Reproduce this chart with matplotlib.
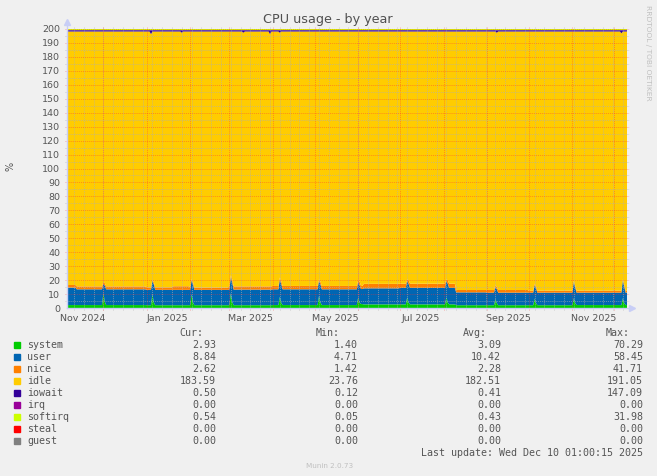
import numpy as np
import pandas as pd
import matplotlib
matplotlib.use('Agg')
import matplotlib.pyplot as plt
from matplotlib.patches import Rectangle

W, H = 657, 476

inicio = pd.Timestamp('2024-11-05 01:00')
fim = pd.Timestamp('2025-12-10 01:00')
dias = pd.date_range(inicio, fim, freq='D')

# niveis de base (trechos)
seg_datas = ['2024-11-05', '2024-11-12', '2025-01-01', '2025-01-20', '2025-02-01', '2025-03-01',
             '2025-04-01', '2025-06-01', '2025-06-05', '2025-07-01', '2025-08-10', '2025-09-01',
             '2025-10-01', '2025-11-01']
seg_system = [2.1, 2.1, 2.0, 2.0, 2.0, 2.0, 2.1, 2.8, 2.6, 2.6, 2.0, 2.0, 2.0, 2.1]
seg_user = [12.5, 11.3, 11.0, 11.0, 11.0, 11.2, 11.3, 10.8, 11.5, 11.8, 9.2, 9.0, 9.0, 8.9]
seg_nice = [1.9, 2.1, 1.8, 2.6, 1.6, 2.3, 2.4, 2.2, 3.2, 3.0, 1.7, 1.9, 1.4, 1.4]

# picos mensais (primeiro domingo) e o dia seguinte
pico_datas = ['2024-12-01', '2025-01-05', '2025-02-02', '2025-03-02', '2025-04-06', '2025-05-04',
              '2025-06-01', '2025-07-06', '2025-08-03', '2025-09-07', '2025-10-05', '2025-11-02',
              '2025-12-07']
pico_system = [10.7, 10.0, 10.0, 10.6, 8.0, 8.6, 7.6, 7.6, 7.6, 6.5, 6.8, 7.0, 7.0]
pico_user = [6.8, 9.6, 10.0, 11.4, 12.5, 10.9, 10.9, 11.9, 11.9, 8.5, 9.7, 12.0, 13.0]
pico_nice = [1.0, 0.6, 0.6, 1.4, 1.3, 1.0, 1.2, 1.0, 1.0, 1.5, 1.0, 0.5, 0.5]
apos_system = [4.5, 4.0, 4.0, 4.5, 3.8, 4.0, 3.8, 3.8, 3.8, 3.5, 3.6, 3.6, 3.6]
apos_user = [11.5, 13.0, 13.0, 14.0, 13.5, 13.0, 12.5, 13.5, 13.5, 10.0, 10.5, 11.0, 12.0]
apos_nice = [1.8, 1.6, 1.6, 2.0, 2.2, 2.0, 2.6, 2.6, 2.6, 1.6, 1.4, 1.4, 1.4]

iowait_datas = ['2025-01-04', '2025-01-26', '2025-03-11', '2025-03-30', '2025-04-06', '2025-09-08', '2025-12-06']
iowait_picos = [2.8, 1.8, 1.8, 2.8, 1.8, 1.8, 2.2]
iowait_base = 0.9
softirq_base = 0.7
total = 199.8

nomes = ['system', 'user', 'nice', 'idle', 'iowait', 'irq', 'softirq', 'steal', 'guest']
cores = ['#00CC00', '#0066B3', '#FF8000', '#FFCC00', '#330099', '#990099', '#CCFF00', '#FF0000', '#808080']
cur = [2.93, 8.84, 2.62, 183.59, 0.50, 0.00, 0.54, 0.00, 0.00]
vmin = [1.40, 4.71, 1.42, 23.76, 0.12, 0.00, 0.05, 0.00, 0.00]
avg = [3.09, 10.42, 2.28, 182.51, 0.41, 0.00, 0.43, 0.00, 0.00]
vmax = [70.29, 58.45, 41.71, 191.05, 147.09, 0.00, 31.98, 0.00, 0.00]

xlabels = ['Nov 2024', 'Jan 2025', 'Mar 2025', 'May 2025', 'Jul 2025', 'Sep 2025', 'Nov 2025']
xlabel_datas = ['2024-11-16', '2025-01-16', '2025-03-16', '2025-05-16', '2025-07-16', '2025-09-16', '2025-11-16']


def serie_trechos(valores):
    s = pd.Series(np.nan, index=dias)
    for d, v in zip(seg_datas, valores):
        s[s.index >= pd.Timestamp(d)] = v
    return s


def posicao(d):
    return dias.get_indexer([pd.Timestamp(d) + pd.Timedelta(hours=1)], method='nearest')[0]


system = serie_trechos(seg_system)
user = serie_trechos(seg_user)
nice = serie_trechos(seg_nice)
for k, d in enumerate(pico_datas):
    i = posicao(d)
    system.iloc[i] = pico_system[k]
    user.iloc[i] = pico_user[k]
    nice.iloc[i] = pico_nice[k]
    if i + 1 < len(dias):
        system.iloc[i + 1] = apos_system[k]
        user.iloc[i + 1] = apos_user[k]
        nice.iloc[i + 1] = apos_nice[k]
iowait = pd.Series(iowait_base, index=dias)
for d, v in zip(iowait_datas, iowait_picos):
    iowait.iloc[posicao(d)] = v
softirq = pd.Series(softirq_base, index=dias)
zeros = pd.Series(0.0, index=dias)
idle = total - system - user - nice - iowait - softirq

fig = plt.figure(figsize=(W / 100, H / 100), dpi=100, facecolor='#F0F0F0')
ax = fig.add_axes([67 / W, 1 - 308 / H, 560 / W, 279 / H])
ax.set_facecolor('white')
ax.stackplot(dias, system, user, nice, idle, iowait, zeros, softirq, zeros, zeros,
             colors=cores, linewidth=0)
ax.set_xlim(inicio, fim)
ax.set_ylim(0, 200)

dx = pd.Timedelta(days=1 / 1.4)
dy = 200 / 279
# grade
for d in pd.date_range(inicio, fim, freq='W-SUN'):
    ax.plot([d, d], [-2 * dy, 200 + 2 * dy], color='#B0B0B0', alpha=0.6, lw=0.7,
            ls=(0, (1, 1)), clip_on=False, zorder=3)
for d in pd.date_range(inicio, fim, freq='MS'):
    ax.plot([d, d], [-2 * dy, 200 + 2 * dy], color='#FF3030', alpha=0.4, lw=0.7,
            ls=(0, (1, 1)), clip_on=False, zorder=3)
for y in range(5, 200, 10):
    ax.plot([inicio - 2 * dx, fim + 2 * dx], [y, y], color='#B0B0B0', alpha=0.6, lw=0.7,
            ls=(0, (1, 1)), clip_on=False, zorder=3)
for y in range(10, 201, 10):
    ax.plot([inicio - 2 * dx, fim + 2 * dx], [y, y], color='#FF3030', alpha=0.4, lw=0.7,
            ls=(0, (1, 1)), clip_on=False, zorder=3)

# eixos com setas
cor_eixo = '#C8CEF6'
ax.plot([inicio, inicio], [0, 200 + 7 * dy], color=cor_eixo, lw=1, clip_on=False, zorder=4)
ax.plot([inicio, fim + 4 * dx], [0, 0], color=cor_eixo, lw=1, clip_on=False, zorder=4)
ax.plot([inicio], [200 + 7 * dy], marker='^', ms=5, color=cor_eixo, clip_on=False, zorder=4)
ax.plot([fim + 5 * dx], [0], marker='>', ms=5, color=cor_eixo, clip_on=False, zorder=4)

for s in ax.spines.values():
    s.set_visible(False)
ax.set_yticks(range(0, 201, 10))
ax.set_xticks([pd.Timestamp(d) for d in xlabel_datas])
ax.set_xticklabels(xlabels)
ax.tick_params(axis='both', length=0, labelsize=6.8, labelcolor='#555555')
ax.tick_params(axis='y', pad=5)
ax.tick_params(axis='x', pad=4)

fig.text(328 / W, 1 - 19 / H, 'CPU usage - by year', ha='center', va='center',
         fontsize=9.2, color='#505050')
fig.text(10 / W, 1 - 166 / H, '%', ha='center', va='center', rotation=90,
         fontsize=7, color='#555555')
fig.text(648 / W, 1 - 53 / H, 'RRDTOOL / TOBI OETIKER', ha='center', va='center',
         rotation=270, fontsize=5.4, color='#C0C0C0')

# legenda
mono = 'DejaVu Sans Mono'
fs = 7.2
cor_txt = '#555555'
for x, t in zip([203, 340, 487, 630], ['Cur:', 'Min:', 'Avg:', 'Max:']):
    fig.text(x / W, 1 - 333 / H, t, ha='right', va='center', family=mono, fontsize=fs, color=cor_txt)
for k, nome in enumerate(nomes):
    y = 345 + 12 * k
    fig.add_artist(Rectangle((14 / W, 1 - (y + 3) / H), 6 / W, 6 / H,
                             transform=fig.transFigure, color=cores[k]))
    fig.text(27 / W, 1 - y / H, nome, ha='left', va='center', family=mono, fontsize=fs, color=cor_txt)
    for x, v in zip([216, 358, 501, 643], [cur[k], vmin[k], avg[k], vmax[k]]):
        fig.text(x / W, 1 - y / H, '%.2f' % v, ha='right', va='center', family=mono,
                 fontsize=fs, color=cor_txt)
fig.text(643 / W, 1 - 453 / H, 'Last update: Wed Dec 10 01:00:15 2025', ha='right', va='center',
         family=mono, fontsize=fs, color=cor_txt)
fig.text(330 / W, 1 - 466 / H, 'Munin 2.0.73', ha='center', va='center', fontsize=5.2, color='#C0C0C0')

fig.savefig('out.png', dpi=100, facecolor='#F0F0F0')
